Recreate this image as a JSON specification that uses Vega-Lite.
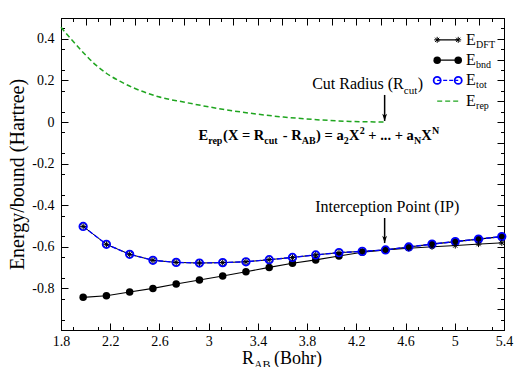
{
  "$schema": "https://vega.github.io/schema/vega-lite/v6.json",
  "width": 443,
  "height": 312,
  "autosize": {"type": "none"},
  "padding": {"left": 61, "top": 18, "right": 12, "bottom": 37},
  "background": "white",
  "config": {
    "view": {"stroke": "black", "strokeWidth": 1},
    "font": "Liberation Serif",
    "axis": {"grid": false, "domainColor": "black", "domainWidth": 1, "tickColor": "black", "tickWidth": 1, "labelColor": "black", "labelFont": "Liberation Serif", "labelFontSize": 14, "titleFont": "Liberation Serif", "titleColor": "black", "titleFontWeight": "normal", "labelFlush": false, "labelOverlap": false},
    "text": {"font": "Liberation Serif", "color": "black", "align": "left", "baseline": "alphabetic"}
  },
  "datasets": {
    "pts": [
      {"R": 1.980, "bnd": -0.843, "tot": -0.502, "dft": -0.502},
      {"R": 2.169, "bnd": -0.835, "tot": -0.588, "dft": -0.588},
      {"R": 2.358, "bnd": -0.817, "tot": -0.636, "dft": -0.636},
      {"R": 2.547, "bnd": -0.800, "tot": -0.665, "dft": -0.665},
      {"R": 2.736, "bnd": -0.779, "tot": -0.675, "dft": -0.675},
      {"R": 2.925, "bnd": -0.760, "tot": -0.678, "dft": -0.678},
      {"R": 3.114, "bnd": -0.740, "tot": -0.676, "dft": -0.676},
      {"R": 3.303, "bnd": -0.720, "tot": -0.672, "dft": -0.672},
      {"R": 3.492, "bnd": -0.699, "tot": -0.662, "dft": -0.662},
      {"R": 3.681, "bnd": -0.679, "tot": -0.651, "dft": -0.651},
      {"R": 3.870, "bnd": -0.663, "tot": -0.639, "dft": -0.639},
      {"R": 4.059, "bnd": -0.644, "tot": -0.628, "dft": -0.628},
      {"R": 4.248, "bnd": -0.626, "tot": -0.622, "dft": -0.622},
      {"R": 4.437, "bnd": -0.615, "tot": -0.615, "dft": -0.615},
      {"R": 4.626, "bnd": -0.601, "tot": -0.601, "dft": -0.607},
      {"R": 4.815, "bnd": -0.587, "tot": -0.587, "dft": -0.600},
      {"R": 5.004, "bnd": -0.575, "tot": -0.575, "dft": -0.594},
      {"R": 5.193, "bnd": -0.563, "tot": -0.563, "dft": -0.587},
      {"R": 5.382, "bnd": -0.551, "tot": -0.551, "dft": -0.581}
    ],
    "rep": [
      {"R": 1.8, "E": 0.455},
      {"R": 1.889, "E": 0.394},
      {"R": 1.984, "E": 0.332},
      {"R": 2.079, "E": 0.276},
      {"R": 2.174, "E": 0.232},
      {"R": 2.282, "E": 0.195},
      {"R": 2.39, "E": 0.164},
      {"R": 2.499, "E": 0.139},
      {"R": 2.593, "E": 0.121},
      {"R": 2.796, "E": 0.096},
      {"R": 3.067, "E": 0.066},
      {"R": 3.338, "E": 0.042},
      {"R": 3.608, "E": 0.024},
      {"R": 3.88, "E": 0.011},
      {"R": 4.15, "E": 0.003},
      {"R": 4.437, "E": 0.0}
    ],
    "leg": [
      {"s": "DFT", "ly": 0.395, "lx1": 4.857, "lx2": 5.028, "tx": 5.092},
      {"s": "bnd", "ly": 0.297, "lx1": 4.857, "lx2": 5.028, "tx": 5.092},
      {"s": "tot", "ly": 0.2, "lx1": 4.857, "lx2": 5.028, "tx": 5.092},
      {"s": "rep", "ly": 0.1, "lx1": 4.857, "lx2": 5.028, "tx": 5.092}
    ],
    "ann": [
      {"k": "cut", "x": 3.841, "y": 0.159},
      {"k": "eq", "x": 2.917, "y": -0.087},
      {"k": "ip", "x": 4.451, "y": -0.433},
      {"k": "xt", "x": 3.27, "y": -1.1615}
    ],
    "arr": [
      {"x": 4.43, "y1": 0.13, "y2": 0.005},
      {"x": 4.43, "y1": -0.4615, "y2": -0.582}
    ]
  },
  "layer": [
    {
      "layer": [
        {
          "data": {"name": "rep"},
          "mark": {"type": "line", "color": "#1fa51f", "strokeWidth": 1.5, "strokeDash": [5, 3], "interpolate": "monotone"},
          "encoding": {
            "x": {"field": "R", "type": "quantitative", "scale": {"domain": [1.8, 5.4], "nice": false, "zero": false},
              "axis": {"orient": "bottom", "title": null, "labelOverlap": false, "labelFlush": false,
                "values": [1.8,2,2.2,2.4,2.6,2.8,3,3.2,3.4,3.6,3.8,4,4.2,4.4,4.6,4.8,5,5.2,5.4],
                "tickSize": -7,
                "labelExpr": "format(datum.value, '~g')",
                "labelPadding": 11}},
            "y": {"field": "E", "type": "quantitative", "scale": {"domain": [-1, 0.5], "nice": false, "zero": false},
              "axis": {"orient": "left", "title": "Energy/bound (Hartree)", "titleFontSize": 20, "titleFontWeight": "normal", "titlePadding": 4, "labelOverlap": false, "labelFlush": false,
                "values": [-1,-0.9,-0.8,-0.7,-0.6,-0.5,-0.4,-0.3,-0.2,-0.1,0,0.1,0.2,0.3,0.4,0.5],
                "tickSize": -7,
                "labelExpr": "datum.value < -0.99 ? '' : replace(format(datum.value, '~g'), '\u2212', '-')",
                "labelPadding": 14}}
          }
        },
        {
          "data": {"name": "pts"},
          "mark": {"type": "line", "color": "black", "strokeWidth": 1.1},
          "encoding": {"x": {"field": "R", "type": "quantitative"}, "y": {"field": "bnd", "type": "quantitative"}}
        },
        {
          "data": {"name": "pts"},
          "mark": {"type": "line", "color": "black", "strokeWidth": 1},
          "encoding": {"x": {"field": "R", "type": "quantitative"}, "y": {"field": "dft", "type": "quantitative"}}
        },
        {
          "data": {"name": "pts"},
          "mark": {"type": "line", "color": "blue", "strokeWidth": 1.4, "strokeDash": [5, 2]},
          "encoding": {"x": {"field": "R", "type": "quantitative"}, "y": {"field": "tot", "type": "quantitative"}}
        },
        {
          "data": {"name": "pts"},
          "mark": {"type": "point", "shape": "circle", "filled": true, "color": "black", "size": 56, "opacity": 1},
          "encoding": {"x": {"field": "R", "type": "quantitative"}, "y": {"field": "bnd", "type": "quantitative"}}
        },
        {
          "data": {"name": "pts"},
          "mark": {"type": "point", "shape": "circle", "filled": false, "color": "blue", "strokeWidth": 1.8, "size": 56, "opacity": 1},
          "encoding": {"x": {"field": "R", "type": "quantitative"}, "y": {"field": "tot", "type": "quantitative"}}
        },
        {
          "data": {"name": "pts"},
          "mark": {"type": "point", "shape": "M-1,0L1,0M0,-1L0,1M-0.7,-0.7L0.7,0.7M-0.7,0.7L0.7,-0.7", "filled": false, "color": "black", "strokeWidth": 1, "size": 36, "opacity": 1},
          "encoding": {"x": {"field": "R", "type": "quantitative"}, "y": {"field": "dft", "type": "quantitative"}}
        },
        {
          "data": {"name": "leg"},
          "mark": {"type": "rule", "strokeWidth": 1.3},
          "encoding": {
            "x": {"field": "lx1", "type": "quantitative"},
            "x2": {"field": "lx2"},
            "y": {"field": "ly", "type": "quantitative"},
            "color": {"field": "s", "type": "nominal", "scale": {"domain": ["DFT", "bnd", "tot", "rep"], "range": ["black", "black", "blue", "#1fa51f"]}, "legend": null},
            "strokeDash": {"field": "s", "type": "nominal", "scale": {"domain": ["DFT", "bnd", "tot", "rep"], "range": [[1, 0], [1, 0], [4, 2], [5, 3]]}, "legend": null}
          }
        },
        {
          "data": {"name": "leg"},
          "transform": [{"filter": "datum.s == 'DFT'"}, {"fold": ["lx1", "lx2"], "as": ["end", "lx"]}],
          "mark": {"type": "point", "shape": "M-1,0L1,0M0,-1L0,1M-0.7,-0.7L0.7,0.7M-0.7,0.7L0.7,-0.7", "filled": false, "color": "black", "strokeWidth": 1, "size": 36, "opacity": 1},
          "encoding": {"x": {"field": "lx", "type": "quantitative"}, "y": {"field": "ly", "type": "quantitative"}}
        },
        {
          "data": {"name": "leg"},
          "transform": [{"filter": "datum.s == 'bnd'"}, {"fold": ["lx1", "lx2"], "as": ["end", "lx"]}],
          "mark": {"type": "point", "shape": "circle", "filled": true, "color": "black", "size": 56, "opacity": 1},
          "encoding": {"x": {"field": "lx", "type": "quantitative"}, "y": {"field": "ly", "type": "quantitative"}}
        },
        {
          "data": {"name": "leg"},
          "transform": [{"filter": "datum.s == 'tot'"}, {"fold": ["lx1", "lx2"], "as": ["end", "lx"]}],
          "mark": {"type": "point", "shape": "circle", "filled": false, "color": "blue", "strokeWidth": 1.8, "size": 50, "opacity": 1},
          "encoding": {"x": {"field": "lx", "type": "quantitative"}, "y": {"field": "ly", "type": "quantitative"}}
        },
        {
          "data": {"name": "leg"},
          "mark": {"type": "text", "text": "E", "fontSize": 16, "baseline": "middle"},
          "encoding": {"x": {"field": "tx", "type": "quantitative"}, "y": {"field": "ly", "type": "quantitative"}}
        },
        {
          "data": {"name": "leg"},
          "mark": {"type": "text", "fontSize": 10, "baseline": "middle", "dx": 10, "dy": 5},
          "encoding": {"x": {"field": "tx", "type": "quantitative"}, "y": {"field": "ly", "type": "quantitative"}, "text": {"field": "s"}}
        },
        {
          "data": {"name": "arr"},
          "mark": {"type": "rule", "color": "black", "strokeWidth": 1.5},
          "encoding": {"x": {"field": "x", "type": "quantitative"}, "y": {"field": "y1", "type": "quantitative"}, "y2": {"field": "y2"}}
        },
        {
          "data": {"name": "arr"},
          "mark": {"type": "point", "shape": "M-0.8,-2.4L0,0L0.8,-2.4L0,-1.8Z", "filled": true, "color": "black", "size": 36, "opacity": 1},
          "encoding": {"x": {"field": "x", "type": "quantitative"}, "y": {"field": "y2", "type": "quantitative"}}
        },
        {"data": {"name": "ann"}, "transform": [{"filter": "datum.k == 'cut'"}], "mark": {"type": "text", "text": "Cut Radius (R", "fontSize": 16}, "encoding": {"x": {"field": "x", "type": "quantitative"}, "y": {"field": "y", "type": "quantitative"}}},
        {"data": {"name": "ann"}, "transform": [{"filter": "datum.k == 'cut'"}], "mark": {"type": "text", "text": "cut", "fontSize": 11, "dx": 91.6, "dy": 5}, "encoding": {"x": {"field": "x", "type": "quantitative"}, "y": {"field": "y", "type": "quantitative"}}},
        {"data": {"name": "ann"}, "transform": [{"filter": "datum.k == 'cut'"}], "mark": {"type": "text", "text": ")", "fontSize": 16, "dx": 105.5}, "encoding": {"x": {"field": "x", "type": "quantitative"}, "y": {"field": "y", "type": "quantitative"}}},
        {"data": {"name": "ann"}, "transform": [{"filter": "datum.k == 'ip'"}], "mark": {"type": "text", "text": "Interception Point (IP)", "fontSize": 16, "align": "center"}, "encoding": {"x": {"field": "x", "type": "quantitative"}, "y": {"field": "y", "type": "quantitative"}}},
        {"data": {"name": "ann"}, "transform": [{"filter": "datum.k == 'eq'"}], "mark": {"type": "text", "text": "E", "fontSize": 14.5, "fontWeight": "bold"}, "encoding": {"x": {"field": "x", "type": "quantitative"}, "y": {"field": "y", "type": "quantitative"}}},
        {"data": {"name": "ann"}, "transform": [{"filter": "datum.k == 'eq'"}], "mark": {"type": "text", "text": "rep", "fontSize": 10, "fontWeight": "bold", "dx": 9.7, "dy": 4}, "encoding": {"x": {"field": "x", "type": "quantitative"}, "y": {"field": "y", "type": "quantitative"}}},
        {"data": {"name": "ann"}, "transform": [{"filter": "datum.k == 'eq'"}], "mark": {"type": "text", "text": "(X = R", "fontSize": 14.5, "fontWeight": "bold", "dx": 24.6}, "encoding": {"x": {"field": "x", "type": "quantitative"}, "y": {"field": "y", "type": "quantitative"}}},
        {"data": {"name": "ann"}, "transform": [{"filter": "datum.k == 'eq'"}], "mark": {"type": "text", "text": "cut", "fontSize": 10, "fontWeight": "bold", "dx": 65.9, "dy": 4}, "encoding": {"x": {"field": "x", "type": "quantitative"}, "y": {"field": "y", "type": "quantitative"}}},
        {"data": {"name": "ann"}, "transform": [{"filter": "datum.k == 'eq'"}], "mark": {"type": "text", "text": "- R", "fontSize": 14.5, "fontWeight": "bold", "dx": 84.3}, "encoding": {"x": {"field": "x", "type": "quantitative"}, "y": {"field": "y", "type": "quantitative"}}},
        {"data": {"name": "ann"}, "transform": [{"filter": "datum.k == 'eq'"}], "mark": {"type": "text", "text": "AB", "fontSize": 10, "fontWeight": "bold", "dx": 103.4, "dy": 4}, "encoding": {"x": {"field": "x", "type": "quantitative"}, "y": {"field": "y", "type": "quantitative"}}},
        {"data": {"name": "ann"}, "transform": [{"filter": "datum.k == 'eq'"}], "mark": {"type": "text", "text": ") = a", "fontSize": 14.5, "fontWeight": "bold", "dx": 117.6}, "encoding": {"x": {"field": "x", "type": "quantitative"}, "y": {"field": "y", "type": "quantitative"}}},
        {"data": {"name": "ann"}, "transform": [{"filter": "datum.k == 'eq'"}], "mark": {"type": "text", "text": "2", "fontSize": 10, "fontWeight": "bold", "dx": 145.3, "dy": 4}, "encoding": {"x": {"field": "x", "type": "quantitative"}, "y": {"field": "y", "type": "quantitative"}}},
        {"data": {"name": "ann"}, "transform": [{"filter": "datum.k == 'eq'"}], "mark": {"type": "text", "text": "X", "fontSize": 14.5, "fontWeight": "bold", "dx": 150.5}, "encoding": {"x": {"field": "x", "type": "quantitative"}, "y": {"field": "y", "type": "quantitative"}}},
        {"data": {"name": "ann"}, "transform": [{"filter": "datum.k == 'eq'"}], "mark": {"type": "text", "text": "2", "fontSize": 10, "fontWeight": "bold", "dx": 161.2, "dy": -6.5}, "encoding": {"x": {"field": "x", "type": "quantitative"}, "y": {"field": "y", "type": "quantitative"}}},
        {"data": {"name": "ann"}, "transform": [{"filter": "datum.k == 'eq'"}], "mark": {"type": "text", "text": "+ ... + a", "fontSize": 14.5, "fontWeight": "bold", "dx": 169.8}, "encoding": {"x": {"field": "x", "type": "quantitative"}, "y": {"field": "y", "type": "quantitative"}}},
        {"data": {"name": "ann"}, "transform": [{"filter": "datum.k == 'eq'"}], "mark": {"type": "text", "text": "N", "fontSize": 10, "fontWeight": "bold", "dx": 215.5, "dy": 4}, "encoding": {"x": {"field": "x", "type": "quantitative"}, "y": {"field": "y", "type": "quantitative"}}},
        {"data": {"name": "ann"}, "transform": [{"filter": "datum.k == 'eq'"}], "mark": {"type": "text", "text": "X", "fontSize": 14.5, "fontWeight": "bold", "dx": 222.9}, "encoding": {"x": {"field": "x", "type": "quantitative"}, "y": {"field": "y", "type": "quantitative"}}},
        {"data": {"name": "ann"}, "transform": [{"filter": "datum.k == 'eq'"}], "mark": {"type": "text", "text": "N", "fontSize": 10, "fontWeight": "bold", "dx": 233.6, "dy": -6.5}, "encoding": {"x": {"field": "x", "type": "quantitative"}, "y": {"field": "y", "type": "quantitative"}}},
        {"data": {"name": "ann"}, "transform": [{"filter": "datum.k == 'xt'"}], "mark": {"type": "text", "text": "R", "fontSize": 18}, "encoding": {"x": {"field": "x", "type": "quantitative"}, "y": {"field": "y", "type": "quantitative"}}},
        {"data": {"name": "ann"}, "transform": [{"filter": "datum.k == 'xt'"}], "mark": {"type": "text", "text": "AB", "fontSize": 12, "dx": 12, "dy": 5}, "encoding": {"x": {"field": "x", "type": "quantitative"}, "y": {"field": "y", "type": "quantitative"}}},
        {"data": {"name": "ann"}, "transform": [{"filter": "datum.k == 'xt'"}], "mark": {"type": "text", "text": "(Bohr)", "fontSize": 18, "dx": 32}, "encoding": {"x": {"field": "x", "type": "quantitative"}, "y": {"field": "y", "type": "quantitative"}}}
      ]
    },
    {
      "data": {"name": "rep"},
      "mark": {"type": "point", "opacity": 0},
      "encoding": {
        "x": {"field": "R", "type": "quantitative",
          "axis": {"orient": "bottom", "title": null, "labels": false, "domain": false, "tickSize": -3.5,
            "values": [1.9,2.1,2.3,2.5,2.7,2.9,3.1,3.3,3.5,3.7,3.9,4.1,4.3,4.5,4.7,4.9,5.1,5.3]}},
        "y": {"field": "E", "type": "quantitative",
          "axis": {"orient": "left", "title": null, "labels": false, "domain": false, "tickSize": -3.5,
            "values": [-0.95,-0.85,-0.75,-0.65,-0.55,-0.45,-0.35,-0.25,-0.15,-0.05,0.05,0.15,0.25,0.35,0.45]}}
      }
    },
    {
      "data": {"name": "rep"},
      "mark": {"type": "point", "opacity": 0},
      "encoding": {
        "x": {"field": "R", "type": "quantitative",
          "axis": {"orient": "top", "title": null, "labels": false, "tickSize": -7,
            "values": [1.8,2,2.2,2.4,2.6,2.8,3,3.2,3.4,3.6,3.8,4,4.2,4.4,4.6,4.8,5,5.2,5.4]}},
        "y": {"field": "E", "type": "quantitative",
          "axis": {"orient": "right", "title": null, "labels": false, "tickSize": -7,
            "values": [-1,-0.9,-0.8,-0.7,-0.6,-0.5,-0.4,-0.3,-0.2,-0.1,0,0.1,0.2,0.3,0.4,0.5]}}
      }
    },
    {
      "data": {"name": "rep"},
      "mark": {"type": "point", "opacity": 0},
      "encoding": {
        "x": {"field": "R", "type": "quantitative",
          "axis": {"orient": "top", "title": null, "labels": false, "domain": false, "tickSize": -3.5,
            "values": [1.9,2.1,2.3,2.5,2.7,2.9,3.1,3.3,3.5,3.7,3.9,4.1,4.3,4.5,4.7,4.9,5.1,5.3]}},
        "y": {"field": "E", "type": "quantitative",
          "axis": {"orient": "right", "title": null, "labels": false, "domain": false, "tickSize": -3.5,
            "values": [-0.95,-0.85,-0.75,-0.65,-0.55,-0.45,-0.35,-0.25,-0.15,-0.05,0.05,0.15,0.25,0.35,0.45]}}
      }
    }
  ],
  "resolve": {"axis": {"x": "independent", "y": "independent"}}
}
